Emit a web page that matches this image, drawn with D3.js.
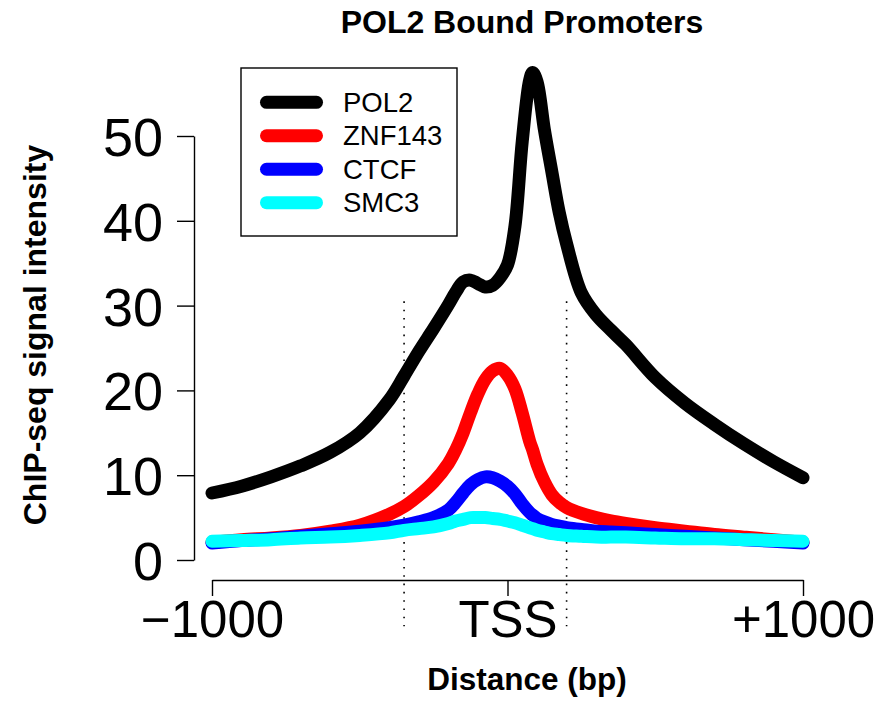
<!DOCTYPE html>
<html>
<head>
<meta charset="utf-8">
<script src="https://cdn.jsdelivr.net/npm/d3@7"></script>
<style>
  html, body { margin: 0; padding: 0; background: #fff; }
  svg { display: block; font-family: "Liberation Sans", Arial, Helvetica, sans-serif; }
</style>
</head>
<body>
<svg id="chart" width="891" height="701"></svg>
<script>
// Distance from the TSS (bp) at which each profile is sampled
const distance = [-1000, -900, -800, -700, -600, -500, -400, -350, -300, -250, -200, -175, -150, -125, -100, -75, -50, -25,
                  0, 25, 50, 75, 85, 100, 125, 150, 175, 200, 250, 300, 350, 400, 500, 600, 700, 800, 900, 1000];

// Mean ChIP-seq signal per factor
const pol2   = [7.9, 8.7, 9.8, 11.1, 12.7, 15.0, 18.9, 21.7, 24.6, 27.3, 30.1, 31.6, 32.8, 33.0, 32.6, 32.2, 32.4, 33.3,
                34.8, 39.3, 49.4, 56.6, 57.5, 56.4, 50.7, 45.8, 41.0, 37.3, 31.5, 28.9, 27.1, 25.4, 21.5, 18.5, 16.0, 13.7, 11.6, 9.7];
const znf143 = [2.1, 2.4, 2.6, 2.9, 3.4, 4.1, 5.4, 6.3, 7.6, 9.2, 11.4, 13.0, 15.0, 17.4, 19.6, 21.3, 22.3, 22.6,
                21.8, 20.2, 17.3, 14.0, 13.0, 11.3, 9.2, 7.7, 6.8, 6.2, 5.5, 5.0, 4.6, 4.3, 3.8, 3.4, 3.0, 2.7, 2.4, 2.1];
const ctcf   = [2.0, 2.3, 2.5, 2.8, 3.1, 3.4, 3.8, 4.1, 4.5, 5.0, 5.9, 6.8, 7.9, 8.9, 9.5, 9.8, 9.7, 9.3,
                8.7, 7.8, 6.6, 5.6, 5.3, 4.9, 4.5, 4.2, 4.0, 3.8, 3.6, 3.4, 3.3, 3.2, 3.0, 2.8, 2.6, 2.4, 2.2, 2.0];
const smc3   = [2.2, 2.3, 2.4, 2.6, 2.7, 2.9, 3.2, 3.5, 3.7, 3.9, 4.3, 4.6, 4.8, 5.0, 5.0, 5.0, 4.9, 4.8,
                4.6, 4.4, 4.1, 3.8, 3.7, 3.5, 3.3, 3.1, 3.0, 2.9, 2.8, 2.7, 2.7, 2.7, 2.6, 2.5, 2.5, 2.4, 2.3, 2.2];

const seriesNames  = ["POL2", "ZNF143", "CTCF", "SMC3"];
const seriesColors = ["#000000", "#ff0000", "#0000ff", "#00ffff"];
const seriesValues = [pol2, znf143, ctcf, smc3];

const yTicks = [0, 10, 20, 30, 40, 50];
const xTicks = [-1000, 0, 1000];
const xTickLabels = ["\u22121000", "TSS", "+1000"];

// Window boundaries marked with dotted guides, and their vertical extent
const guideDistances = [-350, 200];
const guideRange = [-7.8, 30.5];

const svg = d3.select("#chart");

const x = d3.scaleLinear().domain([-1000, 1000]).range([212, 803]);
const y = d3.scaleLinear().domain([0, 50]).range([560, 136]);

// Title and axis titles
svg.append("text")
  .attr("x", 522).attr("y", 33)
  .attr("text-anchor", "middle")
  .attr("font-weight", "bold").attr("font-size", 32)
  .text("POL2 Bound Promoters");

svg.append("text")
  .attr("x", 527).attr("y", 690)
  .attr("text-anchor", "middle")
  .attr("font-weight", "bold").attr("font-size", 31.5)
  .text("Distance (bp)");

svg.append("text")
  .attr("transform", "translate(46,335) rotate(-90)")
  .attr("text-anchor", "middle")
  .attr("font-weight", "bold").attr("font-size", 32)
  .text("ChIP-seq signal intensity");

// Y axis
const yAxis = svg.append("g")
  .attr("transform", "translate(194,0)")
  .call(d3.axisLeft(y).tickValues(yTicks).tickSize(17).tickSizeOuter(0).tickFormat(d3.format("d")));
yAxis.selectAll("path, line").attr("stroke", "#000").attr("stroke-width", 1.4);
yAxis.selectAll("text")
  .attr("x", -31).attr("dy", "0.36em")
  .attr("font-size", 54).attr("fill", "#000")
  .attr("font-family", "Liberation Sans, Arial, sans-serif");

// X axis
const xAxis = svg.append("g")
  .attr("transform", "translate(0,580)")
  .call(d3.axisBottom(x).tickValues(xTicks).tickSize(16).tickSizeOuter(0)
        .tickFormat((d, i) => xTickLabels[i]));
xAxis.selectAll("path, line").attr("stroke", "#000").attr("stroke-width", 1.4);
xAxis.selectAll("text")
  .attr("y", 57).attr("dy", 0)
  .attr("font-size", 51).attr("fill", "#000")
  .attr("font-family", "Liberation Sans, Arial, sans-serif");

// Dotted guides around the TSS
svg.append("g").selectAll("line")
  .data(guideDistances)
  .join("line")
  .attr("x1", d => x(d)).attr("x2", d => x(d))
  .attr("y1", y(guideRange[1])).attr("y2", y(guideRange[0]))
  .attr("stroke", "#000").attr("stroke-width", 1.6)
  .attr("stroke-dasharray", "1.6,6.7");

// Profiles
const line = d3.line()
  .x((d, i) => x(distance[i]))
  .y(d => y(d))
  .curve(d3.curveCatmullRom.alpha(0.5));

svg.append("g").selectAll("path")
  .data(seriesValues)
  .join("path")
  .attr("d", d => line(d))
  .attr("fill", "none")
  .attr("stroke", (d, i) => seriesColors[i])
  .attr("stroke-width", 13)
  .attr("stroke-linecap", "round")
  .attr("stroke-linejoin", "round");

// Legend
const legend = svg.append("g");
legend.append("rect")
  .attr("x", 241).attr("y", 68).attr("width", 216).attr("height", 168)
  .attr("fill", "#fff").attr("stroke", "#000").attr("stroke-width", 1.4);

const rowY = d3.scalePoint().domain(seriesNames).range([102.3, 202.7]);
const rows = legend.selectAll("g.row")
  .data(seriesNames)
  .join("g").attr("class", "row")
  .attr("transform", d => `translate(0,${rowY(d)})`);
rows.append("line")
  .attr("x1", 266.5).attr("x2", 316.5)
  .attr("stroke", (d, i) => seriesColors[i])
  .attr("stroke-width", 13)
  .attr("stroke-linecap", "round");
rows.append("text")
  .attr("x", 343).attr("y", 9.7)
  .attr("font-size", 27.5)
  .text(d => d);
</script>
</body>
</html>
